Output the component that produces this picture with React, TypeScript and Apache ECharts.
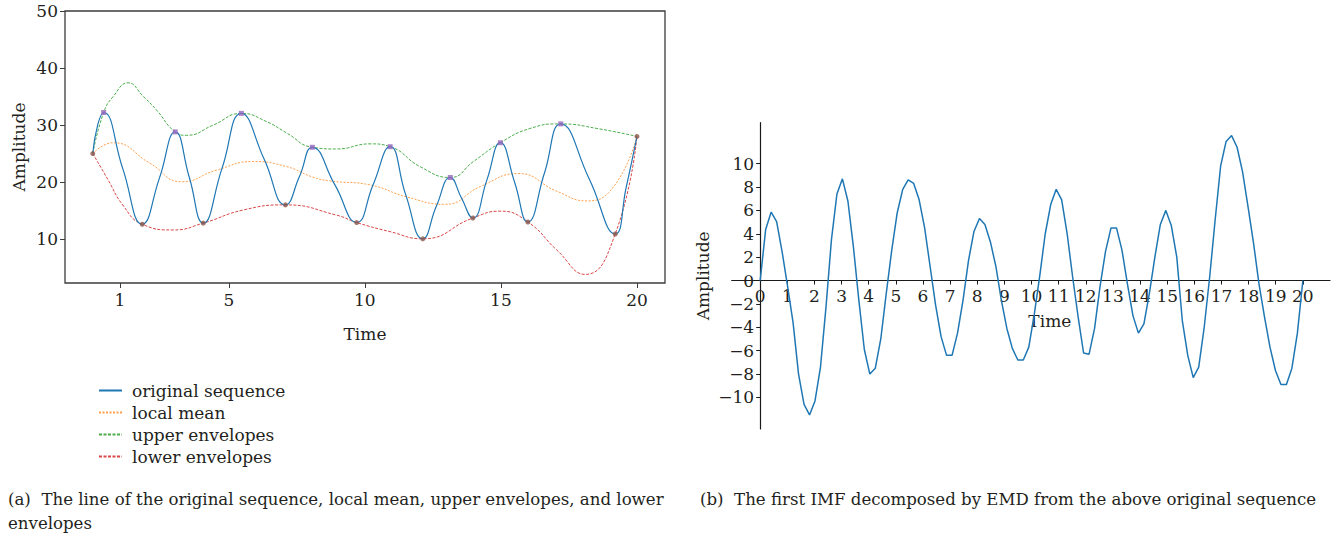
import React, { useEffect, useRef } from 'react';
import * as echarts from 'echarts';

const FONT = '"DejaVu Serif", "Liberation Serif", serif';
const TEXT = '#231f20';

// ---- Left chart (a) ----
const originalSequence: [number, number][] = [
  [0, 25], [0.18, 30], [0.4, 32.2], [1.1, 22.4], [1.82, 12.6], [2.45, 20.7], [3.03, 28.8],
  [3.55, 20.8], [4.06, 12.8], [4.75, 22.4], [5.46, 32.05], [6.3, 24], [7.08, 16.0],
  [7.6, 21], [8.07, 26.1], [8.9, 19.5], [9.7, 12.9], [10.3, 19.5], [10.93, 26.2],
  [11.5, 17.8], [12.13, 10.05], [12.63, 15.8], [13.14, 20.8], [13.55, 17.2], [13.97, 13.7],
  [14.48, 20.3], [14.98, 26.9], [15.5, 20], [15.99, 13.0], [16.6, 21.6], [17.2, 30.2],
  [18.25, 20.5], [19.2, 10.9], [19.6, 19], [20, 28],
];
const localMean: [number, number][] = [
  [0, 25], [0.75, 26.9], [2.1, 23.3], [3.27, 20.05], [4.55, 22.1], [5.9, 23.6], [7.13, 22.7],
  [8.07, 20.9], [8.72, 20.2], [10.19, 19.5], [11.54, 17.4], [12.95, 16.1], [14.24, 19.2],
  [15.64, 21.5], [17.05, 18.4], [18.16, 16.7], [19.14, 19.2], [20, 28],
];
const upperEnvelope: [number, number][] = [
  [0, 25], [0.4, 32.2], [0.75, 35], [1.3, 37.4], [1.86, 35.0], [2.35, 32.6], [3.03, 28.8],
  [3.45, 28.2], [4.43, 30], [5.46, 32.05], [6.39, 30.6], [7.13, 28.6], [8.07, 26.1],
  [8.96, 25.8], [10.19, 26.7], [10.93, 26.2], [12.03, 22.7], [13.14, 20.8], [13.99, 23.6],
  [14.98, 26.9], [16.07, 29.4], [17.2, 30.2], [18.53, 29.4], [20, 28],
];
const lowerEnvelope: [number, number][] = [
  [0, 25], [0.55, 20.5], [1.1, 16.0], [1.82, 12.6], [2.96, 11.6], [4.06, 12.8], [5.53, 15.1],
  [7.08, 16.0], [8.96, 14.2], [9.7, 12.9], [10.93, 11.3], [12.13, 10.05], [13.97, 13.7],
  [14.97, 14.9], [15.99, 13.0], [17.05, 8.1], [18.1, 3.8], [19.2, 10.9], [20, 28],
];
const peaks: [number, number][] = [
  [0.4, 32.2], [3.03, 28.8], [5.46, 32.05], [8.07, 26.1], [10.93, 26.2], [13.14, 20.8],
  [14.98, 26.9], [17.2, 30.2],
];
const troughs: [number, number][] = [
  [0, 25], [1.82, 12.6], [4.06, 12.8], [7.08, 16.0], [9.7, 12.9], [12.13, 10.05],
  [13.97, 13.7], [15.99, 13.0], [19.2, 10.9], [20, 28],
];
const leftXTicks = [1, 5, 10, 15, 20];
const leftYTicks = [10, 20, 30, 40, 50];

// ---- Right chart (b) ----
const imfStart = 0;
const imfEnd = 20;
const imfValues = [
  0, 4.37, 5.86, 5.03, 2.46, -0.5, -3.6, -8.0, -10.6, -11.5,
  -10.3, -7.4, -2.3, 3.5, 7.4, 8.7, 6.8, 2.9, -1.7, -5.9,
  -8.0, -7.5, -5.0, -1.1, 2.6, 5.8, 7.8, 8.6, 8.3, 6.9,
  4.5, 1.2, -2.1, -4.8, -6.4, -6.4, -4.5, -1.7, 1.7, 4.2,
  5.3, 4.8, 3.3, 1.2, -1.7, -4.1, -5.8, -6.8, -6.8, -5.7,
  -2.9, 0.4, 4.0, 6.5, 7.8, 6.9, 4.0, 0.3, -3.1, -6.2,
  -6.3, -4.1, -0.5, 2.5, 4.5, 4.5, 2.6, -0.3, -3.0, -4.5,
  -3.7, -1.1, 2.0, 4.8, 6.0, 4.7, 2.0, -3.4, -6.4, -8.3,
  -7.4, -4.0, 0.3, 5.2, 9.8, 11.9, 12.4, 11.4, 9.3, 6.3,
  3.2, -0.3, -3.1, -5.7, -7.7, -8.9, -8.9, -7.5, -4.5, 0,
];
const rightXTicks = [0, 1, 2, 3, 4, 5, 6, 7, 8, 9, 10, 11, 12, 13, 14, 15, 16, 17, 18, 19, 20];
const rightYTicks = [-10, -8, -6, -4, -2, 0, 2, 4, 6, 8, 10];

const captionA = '(a)  The line of the original sequence, local mean, upper envelopes, and lower\nenvelopes';
const captionB = '(b)  The first IMF decomposed by EMD from the above original sequence';

// right grid geometry
const RX_MIN = -1.05, RX_MAX = 21.0, RY_MIN = -12.7, RY_MAX = 13.5;
const RG = { left: 731.7, top: 122.7, width: 598.3, height: 306.3 };

export default function App() {
  const ref = useRef<HTMLDivElement>(null);
  useEffect(() => {
    if (!ref.current) return;
    const chart = echarts.init(ref.current, null, { renderer: 'svg' });
    const step = (imfEnd - imfStart) / (imfValues.length - 1);
    const imfData = imfValues.map((v, i) => [imfStart + i * step, v]);
    const labelStyle = { fontSize: 17, color: TEXT, fontFamily: FONT };
    const minus = (v: number) => (v < 0 ? '\u2212' + String(-v) : String(v));
    // offsets moving the axes of panel (b) onto the zero lines
    const xOff = -(RG.height * (0 - RY_MIN) / (RY_MAX - RY_MIN));
    const yOff = -(RG.width * (0 - RX_MIN) / (RX_MAX - RX_MIN));

    chart.setOption({
      animation: false,
      textStyle: { fontFamily: FONT },
      grid: [
        { left: 65, top: 11, width: 600, height: 272, show: true, borderColor: '#3c3c3c', borderWidth: 1.3, backgroundColor: 'transparent' },
        { ...RG },
      ],
      xAxis: [
        {
          gridIndex: 0, type: 'value', min: -1.02, max: 21.03,
          splitLine: { show: false }, axisLine: { show: false, onZero: false },
          axisTick: { show: true, customValues: leftXTicks, length: 5, lineStyle: { color: '#3c3c3c' } },
          axisLabel: { ...labelStyle, customValues: leftXTicks, margin: 8 },
          name: 'Time', nameLocation: 'middle', nameGap: 42,
          nameTextStyle: { ...labelStyle },
        },
        {
          gridIndex: 1, type: 'value', min: RX_MIN, max: RX_MAX, offset: xOff,
          splitLine: { show: false },
          axisLine: { show: true, onZero: false, lineStyle: { color: '#1a1a1a', width: 1.2 } },
          axisTick: { show: true, customValues: rightXTicks, length: 4, lineStyle: { color: '#1a1a1a' } },
          axisLabel: { ...labelStyle, customValues: rightXTicks, margin: 7, formatter: (v: number) => String(v) },
          name: 'Time', nameLocation: 'middle', nameGap: 32,
          nameTextStyle: { ...labelStyle, padding: [0, 0, 0, 38] },
        },
      ],
      yAxis: [
        {
          gridIndex: 0, type: 'value', min: 2.3, max: 50,
          splitLine: { show: false }, axisLine: { show: false, onZero: false },
          axisTick: { show: true, customValues: leftYTicks, length: 5, lineStyle: { color: '#3c3c3c' } },
          axisLabel: { ...labelStyle, customValues: leftYTicks, margin: 7 },
          name: 'Amplitude', nameLocation: 'middle', nameGap: 38, nameRotate: 90,
          nameTextStyle: { ...labelStyle },
        },
        {
          gridIndex: 1, type: 'value', min: RY_MIN, max: RY_MAX, offset: yOff,
          splitLine: { show: false },
          axisLine: { show: true, onZero: false, lineStyle: { color: '#1a1a1a', width: 1.2 } },
          axisTick: { show: true, customValues: rightYTicks, length: 4, lineStyle: { color: '#1a1a1a' } },
          axisLabel: { ...labelStyle, customValues: rightYTicks, margin: 6, formatter: minus },
          name: 'Amplitude', nameLocation: 'middle', nameGap: 49, nameRotate: 90,
          nameTextStyle: { ...labelStyle },
        },
      ],
      legend: {
        orient: 'vertical', left: 93, top: 377, itemWidth: 23, itemHeight: 10, itemGap: 5,
        data: ['original sequence', 'local mean', 'upper envelopes', 'lower envelopes'],
        itemStyle: { opacity: 0 },
        textStyle: { ...labelStyle, padding: [0, 0, 0, 5] },
      },
      series: [
        {
          name: 'original sequence', type: 'line', xAxisIndex: 0, yAxisIndex: 0, data: originalSequence,
          smooth: 0.5, symbol: 'none', lineStyle: { color: '#1f77b4', width: 1.2 }, itemStyle: { color: '#1f77b4' }, z: 3,
        },
        {
          name: 'local mean', type: 'line', xAxisIndex: 0, yAxisIndex: 0, data: localMean,
          smooth: 0.5, symbol: 'none', lineStyle: { color: '#ff7f0e', width: 1, type: [2, 1.5], opacity: 0.75 }, itemStyle: { color: '#ff7f0e' }, z: 2,
        },
        {
          name: 'upper envelopes', type: 'line', xAxisIndex: 0, yAxisIndex: 0, data: upperEnvelope,
          smooth: 0.5, symbol: 'none', lineStyle: { color: '#2ca02c', width: 1, type: [3, 1.5], opacity: 0.85 }, itemStyle: { color: '#2ca02c' }, z: 2,
        },
        {
          name: 'lower envelopes', type: 'line', xAxisIndex: 0, yAxisIndex: 0, data: lowerEnvelope,
          smooth: 0.5, symbol: 'none', lineStyle: { color: '#d62728', width: 1, type: [3, 1.5], opacity: 0.85 }, itemStyle: { color: '#d62728' }, z: 2,
        },
        {
          name: 'peaks', type: 'scatter', xAxisIndex: 0, yAxisIndex: 0, data: peaks,
          symbol: 'rect', symbolSize: 5, itemStyle: { color: '#9467bd' }, z: 5,
        },
        {
          name: 'troughs', type: 'scatter', xAxisIndex: 0, yAxisIndex: 0, data: troughs,
          symbol: 'circle', symbolSize: 5, itemStyle: { color: '#8c564b' }, z: 5,
        },
        {
          name: 'IMF', type: 'line', xAxisIndex: 1, yAxisIndex: 1, data: imfData,
          symbol: 'none', lineStyle: { color: '#1f77b4', width: 1.5 }, itemStyle: { color: '#1f77b4' },
        },
      ],
      graphic: [
        { type: 'text', left: 8, top: 487, style: { text: captionA, font: `16.6px ${FONT}`, fill: TEXT, lineHeight: 24 } },
        { type: 'text', left: 700, top: 487, style: { text: captionB, font: `16.6px ${FONT}`, fill: TEXT, lineHeight: 24 } },
      ],
    });
    return () => chart.dispose();
  }, []);
  return <div ref={ref} style={{ position: 'absolute', left: 0, top: 0, width: 1337, height: 537 }} />;
}
